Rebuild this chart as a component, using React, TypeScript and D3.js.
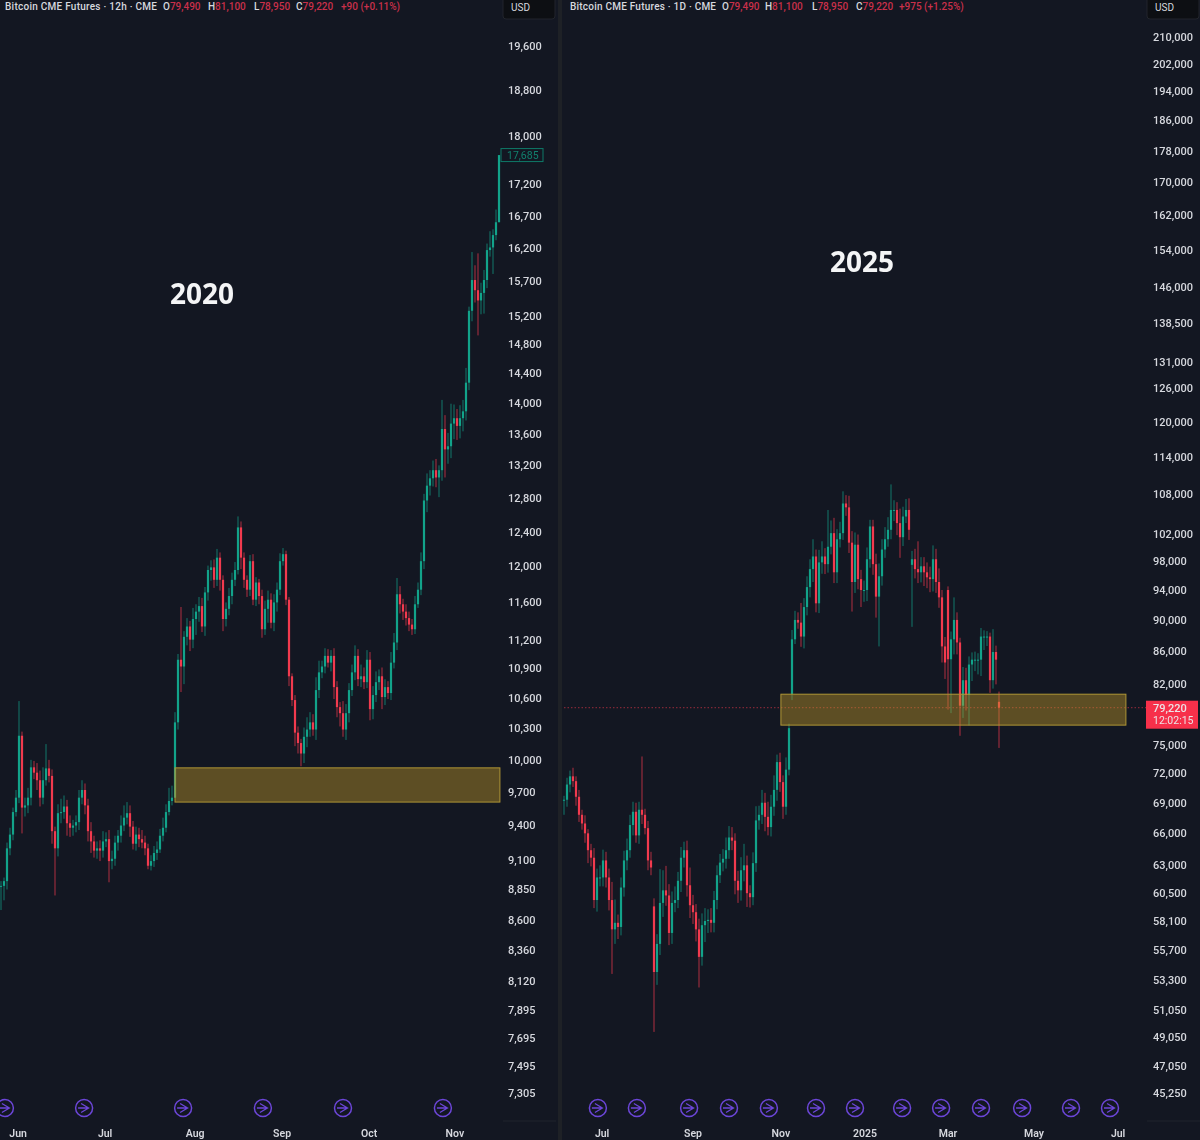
import React from "react";
import * as d3 from "d3";

const closes2020 = [8880,8920,9200,9320,9520,9650,10230,9560,9580,9650,
9930,9880,9810,9650,9810,9920,9850,9350,9200,9510,
9520,9570,9420,9380,9400,9430,9650,9720,9580,9350,
9260,9180,9200,9180,9260,9280,9090,9110,9250,9310,
9400,9470,9510,9390,9240,9320,9280,9250,9200,9050,
9090,9160,9190,9310,9380,9520,9620,9650,10360,10990,
10920,11230,11340,11200,11420,11500,11560,11340,11710,11960,
11990,11850,12100,11850,11420,11530,11670,11850,11960,12450,
12100,11850,11740,12060,11630,11820,11670,11310,11530,11630,
11380,11600,11740,12060,12140,11630,10820,10580,10260,10160,
10060,10220,10290,10360,10290,10680,10860,10920,11030,10960,
11030,10710,10510,10450,10290,10450,10680,10860,11030,10790,
10820,10760,10990,10490,10630,10760,10820,10610,10710,10650,
10960,11170,11690,11580,11500,11430,11360,11310,11580,11740,
12060,12770,12950,13040,13140,13050,13140,13660,13400,13440,
13730,13800,13700,13800,13890,14270,15270,15720,15570,15420,
15530,15720,16170,16210,16400,16600,17685];
const wickUp2020 = [40,30,50,60,40,70,340,40,70,90,
70,60,90,90,120,230,80,60,40,80,
120,100,60,70,50,60,70,90,60,60,
80,50,60,70,90,60,80,70,60,50,
90,110,100,70,50,70,60,80,60,40,
50,60,70,60,90,70,120,110,100,60,
560,60,90,60,120,80,100,90,60,50,
80,90,100,60,50,70,90,80,90,130,
70,60,50,70,80,60,40,70,90,100,
70,90,80,90,70,40,30,30,50,60,
40,90,120,100,80,130,120,60,80,70,
60,80,60,50,120,90,70,80,110,70,
120,90,100,80,90,110,70,90,80,60,
110,100,180,90,60,80,70,60,90,80,
100,80,150,100,120,140,60,380,180,170,
260,180,120,170,150,200,60,420,220,550,
150,150,100,250,90,200,0];
const wickDown2020 = [200,120,70,60,50,40,50,230,80,70,
70,60,90,80,60,50,60,110,400,70,
90,60,110,80,70,60,70,60,80,90,
100,60,70,90,60,50,180,70,60,70,
60,50,60,90,50,60,70,50,60,30,
40,50,60,30,50,40,30,40,0,70,
260,180,90,120,90,170,110,60,100,90,
120,90,70,120,130,80,70,90,70,50,
130,90,80,70,60,70,90,90,60,150,
60,90,100,60,50,60,100,60,130,100,
120,90,100,70,60,100,80,60,70,50,
90,120,100,130,70,100,90,60,80,70,
80,70,60,110,100,70,80,120,80,60,
70,60,80,100,90,80,70,60,50,40,
60,90,140,120,100,120,240,130,350,180,
150,200,180,160,170,120,100,150,180,500,
200,300,120,100,400,80,0];

const closes2025 = [69300,70850,71700,71200,69600,67800,66950,66000,64400,63700,
59900,61900,61900,63450,61900,59900,57400,57950,57600,61000,
63450,64400,66800,68100,65800,68300,67800,66500,63450,62800,
53950,56200,59650,60750,60300,57100,59650,59900,61600,63700,
64400,61200,59450,58850,57400,55150,57750,58100,58200,57950,
59900,62100,63250,63600,64400,65600,65300,61600,60750,62550,
63000,60500,60150,63200,67250,67800,69000,67600,66600,68600,
70300,73200,71100,68600,72400,76900,87500,90000,89650,87850,
91700,94400,96900,98700,92200,97850,98700,97600,100100,102100,
96450,101200,102100,106600,106000,100700,95100,100400,95500,94000,
94000,98300,103100,97600,93100,95900,99700,101200,102600,105600,
105600,103600,101500,104600,105600,102600,98300,96900,96450,97300,
96450,95750,95500,98300,95100,93000,86600,84600,85000,87500,
90000,87100,79450,82450,80700,84350,84950,84950,84950,87850,
87850,87850,82450,85900,84950,79220];
const wickUp2025 = [400,700,600,900,500,700,500,800,400,600,
900,800,1100,1000,800,800,1600,2000,700,900,
900,1100,1000,1000,900,800,5500,600,700,800,
700,800,3000,1800,2200,1000,1000,1200,800,1000,
800,900,1600,900,700,900,1000,1100,900,1000,
800,900,800,900,1200,1100,1000,700,900,1200,
2000,900,700,1000,1400,900,1300,1000,1500,1200,
1500,800,1000,700,1300,500,1200,1200,1000,2600,
1200,1500,1400,2500,1000,1800,2200,1200,5500,1900,
2300,1500,1700,1900,1300,1800,1700,1800,1500,1300,
1300,1700,1000,1000,1500,1800,1500,1800,1900,4000,
1500,1200,2200,1500,1700,1800,1200,1500,4000,1300,
1300,1400,1500,2000,1500,1900,1000,1200,500,1000,
3000,1000,600,1600,1500,1000,900,1000,800,1100,
800,700,500,2900,800,1200];
const wickDown2025 = [1500,700,800,600,900,700,600,900,1200,800,
700,1000,800,800,900,900,3600,1200,1000,700,
800,900,700,1000,700,800,900,600,900,700,
4500,1000,900,1200,900,1000,900,800,700,1000,
900,1000,1100,1000,1000,2400,700,1400,1000,800,
800,800,700,800,900,800,900,1200,1100,900,
1000,1200,900,700,800,900,900,1400,800,900,
900,1100,1000,1200,800,600,700,600,800,1300,
1500,1100,1400,1800,1200,1300,1600,1400,1200,1100,
1500,1500,1200,1000,1300,1500,4000,1500,1400,2300,
1600,1500,1200,1500,2800,6500,1300,1200,1100,1400,
1700,1800,3000,1300,1000,1500,8400,1300,1500,1400,
1900,1500,1800,1700,1500,1400,2000,2000,6000,6400,
1900,1500,3400,1400,1800,3500,2000,1400,1800,2000,
1700,1200,1500,1000,3000,4500];
const gapOpens2025: Record<number, number> = { 30: 59350, 76: 80800, 116: 97500, 128: 94000, 145: 79900 };

const ticks2020 = ["19,600","18,800","18,000","17,200","16,700","16,200","15,700","15,200","14,800","14,400","14,000","13,600","13,200","12,800","12,400","12,000","11,600","11,200","10,900","10,600","10,300","10,000","9,700","9,400","9,100","8,850","8,600","8,360","8,120","7,895","7,695","7,495","7,305"];
const ticks2025 = ["210,000","202,000","194,000","186,000","178,000","170,000","162,000","154,000","146,000","138,500","131,000","126,000","120,000","114,000","108,000","102,000","98,000","94,000","90,000","86,000","82,000","75,000","72,000","69,000","66,000","63,000","60,500","58,100","55,700","53,300","51,050","49,050","47,050","45,250"];

const months2020 = ["Jun","Jul","Aug","Sep","Oct","Nov"];
const monthIdx2020 = [5.7,34.7,64.7,93.7,122.7,151.3];
const icons2020 = [1.3,27.7,60.7,87.3,114,147.3];
const months2025 = ["Jul","Sep","Nov","2025","Mar","May","Jul"];
const monthIdx2025 = [12.7,43,72.3,100.3,128,156.7,184.7];
const icons2025 = [11.3,24.3,41.7,55,68.3,84,97,112.7,125.7,139,152.7,169,182];

const zone2020 = { from: 58, to: 166.3, hi: 9925, lo: 9610 };
const zone2025 = { from: 72.3, to: 187.3, hi: 80790, lo: 77240 };
const last2025 = 79220;
const last2020 = 17685;

const BG = "#131722";
const UP = "#12a38a";
const DOWN = "#f23a4e";
const TXT = "#d6d8de";
const FONT = "Roboto, 'Noto Sans', sans-serif";

const y2020 = d3.scaleLog().domain([7305, 19600]).range([1093, 46]);
const y2025 = d3.scaleLog().domain([45250, 210000]).range([1093, 37]);
const x2020 = d3.scaleLinear().domain([0, 166]).range([1, 499]);
const x2025 = d3.scaleLinear().domain([0, 145]).range([564, 999]);

type Y = d3.ScaleLogarithmic<number, number>;
type X = d3.ScaleLinear<number, number>;

function Candles({ closes, up, down, x, y, gaps = {} }: { closes: number[]; up: number[]; down: number[]; x: X; y: Y; gaps?: Record<number, number> }) {
  return (
    <g style={{ filter: "blur(0.5px)" }}>
      {closes.map((c, i) => {
        const o = gaps[i] ?? (i === 0 ? c : closes[i - 1]);
        const col = c >= o ? UP : DOWN;
        const hi = Math.max(o, c) + (up[i] ?? 0);
        const lo = Math.min(o, c) - (down[i] ?? 0);
        const top = y(Math.max(o, c));
        const bot = y(Math.min(o, c));
        return (
          <g key={i}>
            <line x1={x(i)} x2={x(i)} y1={y(hi)} y2={y(lo)} stroke={col} strokeWidth={1} opacity={0.7} />
            <rect x={x(i) - 1.1} width={2.2} y={top} height={Math.max(1, bot - top)} fill={col} />
          </g>
        );
      })}
    </g>
  );
}

function Zone({ z, x, y }: { z: { from: number; to: number; hi: number; lo: number }; x: X; y: Y }) {
  return (
    <rect x={x(z.from)} width={x(z.to) - x(z.from)} y={y(z.hi)} height={y(z.lo) - y(z.hi)}
      fill="rgba(195,155,40,0.42)" stroke="#b09636" strokeWidth={1} />
  );
}

function Icon({ cx }: { cx: number }) {
  const c = "#6c46d8";
  return (
    <g transform={`translate(${cx},1108)`} fill="none" stroke={c} strokeWidth={1.5}>
      <circle r={8.5} />
      <path d="M-3,-4.5 L4.5,0 L-3,4.5 M-6,0 L4.5,0" strokeWidth={1.3} />
    </g>
  );
}

function Legend({ x0, tf, titleWidth, xO, xH, xL, xC, xD, delta }: { x0: number; tf: string; titleWidth: number; xO: number; xH: number; xL: number; xC: number; xD: number; delta: string }) {
  const red = "#c9304a";
  const items: [number, string, string][] = [[xO, "79,490", "O"], [xH, "81,100", "H"], [xL, "78,950", "L"], [xC, "79,220", "C"]];
  return (
    <g fontFamily={FONT} fontSize={10} fontWeight={500}>
      <text x={x0} y={10} fill={TXT} textLength={titleWidth} lengthAdjust="spacing">{`Bitcoin CME Futures · ${tf} · CME`}</text>
      {items.map(([px, val, k]) => (
        <text key={k} x={px} y={10} fill={TXT}>
          {k}<tspan fill={red}>{val}</tspan>
        </text>
      ))}
      <text x={xD} y={10} fill={red}>{delta}</text>
    </g>
  );
}

function AxisLabels({ labels, x, y }: { labels: string[]; x: number; y: Y }) {
  return (
    <g fontFamily={FONT} fontSize={11} fontWeight={500} fill={TXT}>
      {labels.map((t) => (
        <text key={t} x={x} y={y(+t.replace(/,/g, ""))} dy="0.35em">{t}</text>
      ))}
    </g>
  );
}

function Months({ labels, idx, x }: { labels: string[]; idx: number[]; x: X }) {
  return (
    <g fontFamily={FONT} fontSize={10.5} fontWeight={600} fill={TXT} textAnchor="middle">
      {labels.map((t, i) => (
        <text key={i} x={x(idx[i])} y={1137}>{t}</text>
      ))}
    </g>
  );
}

export default function App() {
  const yLast = y2025(last2025);
  const yLast20 = y2020(last2020);
  return (
    <svg width={1200} height={1140} viewBox="0 0 1200 1140" style={{ position: "absolute", left: 0, top: 0, display: "block", background: BG, filter: "blur(0.3px)" }}>
      <rect width={1200} height={1140} fill={BG} />
      <rect x={558} y={0} width={4} height={1140} fill="#1e2126" />

      <Legend x0={5} tf="12h" titleWidth={152} xO={163} xH={208} xL={254} xC={296} xD={341} delta="+90 (+0.11%)" />
      <Legend x0={570} tf="1D" titleWidth={146} xO={722} xH={765} xL={812} xC={856} xD={899} delta="+975 (+1.25%)" />

      {[503, 1147].map((bx) => (
        <g key={bx}>
          <rect x={bx} y={-4} width={52} height={23} rx={3} fill="#0d0f13" stroke="#22252c" />
          <text x={bx + 8} y={11} fontFamily={FONT} fontSize={10} fill={TXT}>USD</text>
        </g>
      ))}

      <line x1={564} x2={1146} y1={yLast} y2={yLast} stroke={DOWN} strokeOpacity={0.6} strokeWidth={1} strokeDasharray="1.5 2" />

      <Candles closes={closes2020} up={wickUp2020} down={wickDown2020} x={x2020} y={y2020} />
      <Candles closes={closes2025} up={wickUp2025} down={wickDown2025} x={x2025} y={y2025} gaps={gapOpens2025} />
      <Zone z={zone2020} x={x2020} y={y2020} />
      <Zone z={zone2025} x={x2025} y={y2025} />

      <AxisLabels labels={ticks2020} x={508} y={y2020} />
      <AxisLabels labels={ticks2025} x={1153} y={y2025} />

      <g>
        <rect x={501} y={yLast20 - 6.5} width={42} height={13} fill={BG} stroke="#0f7a68" strokeWidth={1} />
        <text x={507} y={yLast20} dy="0.35em" fontFamily={FONT} fontSize={10.5} fill="#11806e">17,685</text>
      </g>
      <g>
        <rect x={1146} y={yLast - 7} width={52} height={28} fill="#f7304a" />
        <text x={1153} y={yLast} dy="0.35em" fontFamily={FONT} fontSize={11} fontWeight={500} fill="#ece3e6">79,220</text>
        <text x={1153} y={yLast + 13} dy="0.35em" fontFamily={FONT} fontSize={10.5} fill="#ece3e6">12:02:15</text>
      </g>

      <text x={202} y={294} dy="0.35em" textAnchor="middle" fontFamily="'Noto Sans', sans-serif" fontWeight={700} fontSize={28} fill="#f4f5f6">2020</text>
      <text x={862} y={262} dy="0.35em" textAnchor="middle" fontFamily="'Noto Sans', sans-serif" fontWeight={700} fontSize={28} fill="#f4f5f6">2025</text>

      {icons2020.map((v, i) => <Icon key={i} cx={x2020(v)} />)}
      {icons2025.map((v, i) => <Icon key={i} cx={x2025(v)} />)}
      <line x1={503} x2={556} y1={1121} y2={1121} stroke="#20242c" />
      <line x1={1147} x2={1200} y1={1121} y2={1121} stroke="#20242c" />
      <Months labels={months2020} idx={monthIdx2020} x={x2020} />
      <Months labels={months2025} idx={monthIdx2025} x={x2025} />
    </svg>
  );
}
